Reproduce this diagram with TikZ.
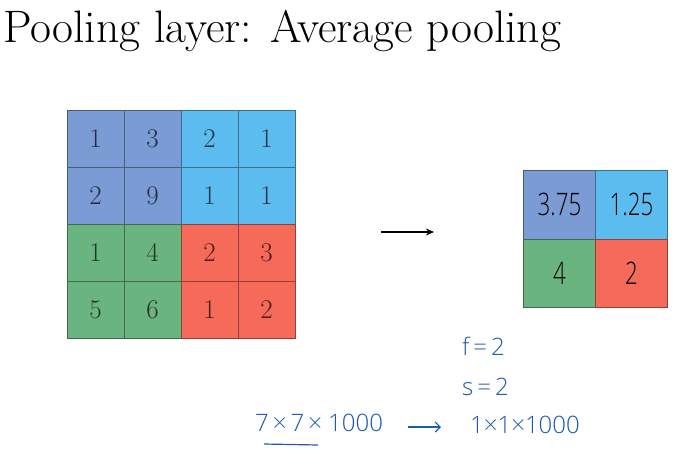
\documentclass[tikz,border=0pt]{standalone}
\usepackage{fontspec}
\usetikzlibrary{arrows.meta}
\newfontfamily\handfont{Open Sans Light}
\newfontfamily\handnarrow[FakeStretch=0.72]{Open Sans Light}
\definecolor{poolpurple}{RGB}{123,155,212}
\definecolor{poolsky}{RGB}{92,188,240}
\definecolor{poolgreen}{RGB}{106,180,128}
\definecolor{poolred}{RGB}{246,106,90}
\definecolor{inkblue}{RGB}{30,90,175}
\begin{document}
\begin{tikzpicture}[x=1pt,y=-1pt,
      every node/.style={inner sep=0pt},
      cell/.style={draw=#1!60!black, fill=#1, minimum width=57pt, minimum height=57pt, text=#1!30!black, font=\fontsize{27}{27}\selectfont},
      outcell/.style={draw=#1!60!black, fill=#1, minimum width=72pt, minimum height=68.5pt, text=black, font=\handnarrow\fontsize{31}{31}\selectfont},
      hand/.style={text=inkblue, font=\handfont\fontsize{24}{24}\selectfont, anchor=base west}
    ]
    \useasboundingbox (0,0) rectangle (688,456);
    \node[anchor=base west, font=\fontsize{45.5}{45.5}\selectfont] (title) at (3,42) {Pooling layer: Average pooling};

    % input 4x4
    \node[cell=poolpurple] (a11) at (95.5,138.5) {1};
    \node[cell=poolpurple] (a12) at (152.5,138.5) {3};
    \node[cell=poolsky] (a13) at (209.5,138.5) {2};
    \node[cell=poolsky] (a14) at (266.5,138.5) {1};
    \node[cell=poolpurple] (a21) at (95.5,195.5) {2};
    \node[cell=poolpurple] (a22) at (152.5,195.5) {9};
    \node[cell=poolsky] (a23) at (209.5,195.5) {1};
    \node[cell=poolsky] (a24) at (266.5,195.5) {1};
    \node[cell=poolgreen] (a31) at (95.5,252.5) {1};
    \node[cell=poolgreen] (a32) at (152.5,252.5) {4};
    \node[cell=poolred] (a33) at (209.5,252.5) {2};
    \node[cell=poolred] (a34) at (266.5,252.5) {3};
    \node[cell=poolgreen] (a41) at (95.5,309.5) {5};
    \node[cell=poolgreen] (a42) at (152.5,309.5) {6};
    \node[cell=poolred] (a43) at (209.5,309.5) {1};
    \node[cell=poolred] (a44) at (266.5,309.5) {2};

    % output 2x2
    \node[outcell=poolpurple] (b11) at (559.5,204.5) {3.75};
    \node[outcell=poolsky] (b12) at (631.5,204.5) {1.25};
    \node[outcell=poolgreen] (b21) at (559.5,273) {4};
    \node[outcell=poolred] (b22) at (631.5,273) {2};

    \coordinate (arrowstart) at (381,232);
    \coordinate (arrowend) at (434,232);
    \draw[-{Stealth[length=8pt,width=7pt]}, line width=1.3pt] (arrowstart) -- (arrowend);

    % notes
    \node[hand] (fval) at (462,355) {f\,=\,2};
    \node[hand] (sval) at (462,395) {s\,=\,2};
    \node[hand] (insize) at (255,431) {7\,\texttimes\,7\,\texttimes\ 1000};
    \node[hand] (outsize) at (470,433) {1\texttimes1\texttimes1000};
    \coordinate (ulstart) at (264,444);
    \coordinate (ulend) at (318,445);
    \coordinate (notestart) at (408,427);
    \coordinate (noteend) at (441,427);
    \draw[inkblue, line width=1.2pt] (ulstart) -- (ulend);
    \draw[inkblue, line width=1.2pt, -{Straight Barb[length=5pt]}] (notestart) -- (noteend);
\end{tikzpicture}
\end{document}
